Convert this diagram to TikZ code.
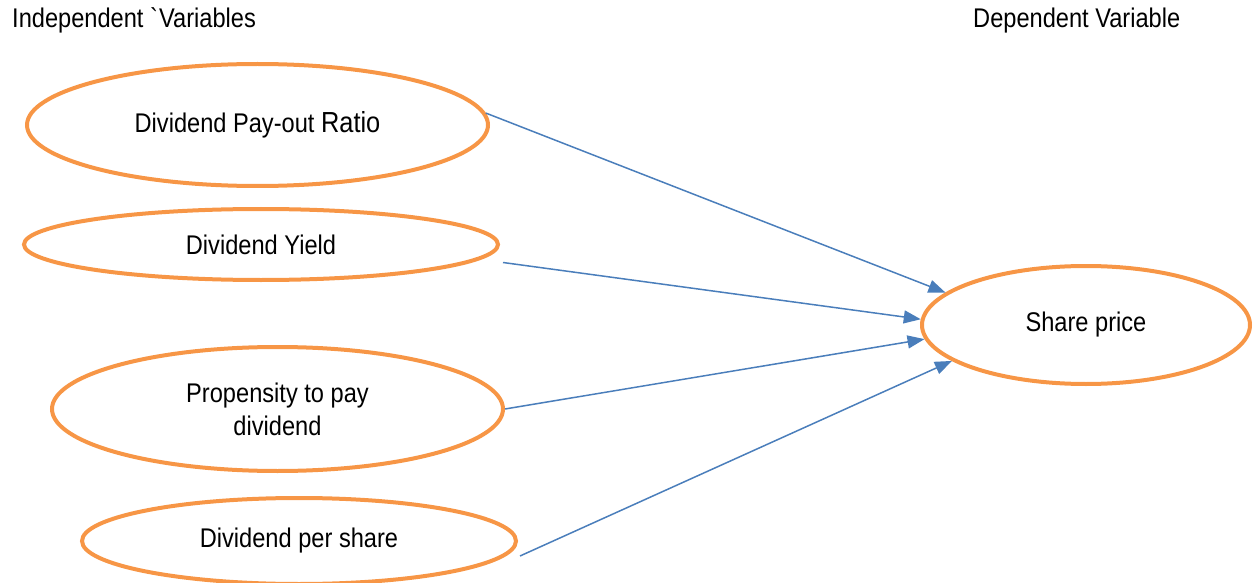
\documentclass[tikz,border=0pt]{standalone}
\usepackage{fontspec}
\setmainfont{Liberation Sans}[FakeStretch=0.875]
\usetikzlibrary{shapes.geometric,arrows.meta,calc}
\definecolor{ellorange}{HTML}{F79646}
\definecolor{arrblue}{HTML}{4A7EBB}
\begin{document}
\begin{tikzpicture}[x=1pt,y=-1pt,
  font=\fontsize{27}{33}\selectfont,
  var/.style={ellipse,draw=ellorange,line width=4pt,inner sep=0pt,align=center},
  link/.style={draw=arrblue,line width=1.5pt,-{Triangle[length=17pt,width=13pt]}},
  title/.style={anchor=base west,inner sep=0pt}]
\useasboundingbox (0,0) rectangle (1254,583);
\node[title] (ti) at (12,28) {Independent \textasciigrave Variables};
\node[title] (td) at (973,28) {Dependent Variable};
\node[var,minimum width=461pt,minimum height=122pt] (e1) at (257.5,125) {Dividend Pay-out {\fontsize{29}{33}\selectfont Ratio}};
\node[var,minimum width=474pt,minimum height=71pt] (e2) at (261,244.5) {Dividend Yield};
\node[var,minimum width=451pt,minimum height=124pt] (e3) at (277.5,409) {Propensity to pay\\dividend};
\node[var,minimum width=434pt,minimum height=86pt] (e4) at (299,541) {Dividend per share};
\node[var,minimum width=328pt,minimum height=118pt] (sp) at (1086,325) {Share price};
\coordinate (s2) at ($(e2.east)+(3,18)$);
\coordinate (s4) at ($(e4.east)+(2,15)$);
\draw[link] (e1.3) -- (sp.167.8);
\draw[link] (s2) -- (sp.178.9);
\draw[link] (e3.east) -- (sp.185.2);
\draw[link] (s4) -- (sp.195.9);
\end{tikzpicture}
\end{document}
